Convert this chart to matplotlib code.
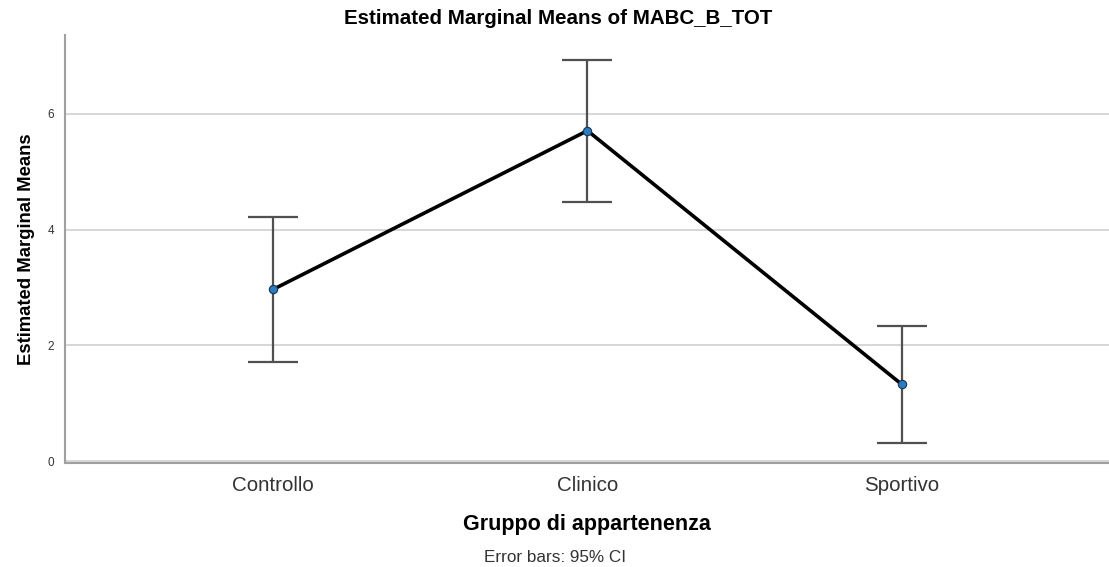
import matplotlib.pyplot as plt

plt.rcParams['font.family'] = ['Liberation Sans', 'DejaVu Sans']

groups = ['Controllo', 'Clinico', 'Sportivo']
means = [2.97, 5.71, 1.33]
ci_low = [1.71, 4.47, 0.31]
ci_high = [4.22, 6.93, 2.33]

x = list(range(len(groups)))
err_low = [m - lo for m, lo in zip(means, ci_low)]
err_high = [hi - m for m, hi in zip(means, ci_high)]

fig = plt.figure(figsize=(11.09, 5.67), dpi=100)
ax = fig.add_axes([0.0586, 0.1834, 0.9414, 0.7546])

# grid lines behind everything
for yv in [0, 2, 4, 6]:
    ax.axhline(yv, color='#d0d0d0', lw=1.2, zorder=0)

ax.errorbar(x, means, yerr=[err_low, err_high], fmt='none', ecolor='#505050',
            elinewidth=1.6, capsize=18, capthick=1.6, zorder=2)
ax.plot(x, means, color='black', lw=2.6, zorder=3)
ax.plot(x, means, 'o', ms=6, mfc='#2b7bc0', mec='#1a3550', mew=0.8, zorder=4)

ax.set_xlim(-0.663, 2.66)
ax.set_ylim(-0.03, 7.36)
ax.set_yticks([0, 2, 4, 6])
ax.set_yticklabels(['0', '2', '4', '6'], fontsize=8.5, color='#333333')
ax.set_xticks(x)
ax.set_xticklabels(groups, fontsize=14.8, color='#333333')
ax.tick_params(axis='both', length=0)
ax.tick_params(axis='x', pad=9)
ax.tick_params(axis='y', pad=8)

for s in ['top', 'right']:
    ax.spines[s].set_visible(False)
for s in ['left', 'bottom']:
    ax.spines[s].set_color('#a0a0a0')
    ax.spines[s].set_linewidth(1.5)

ax.set_ylabel('Estimated Marginal Means', fontsize=13.3, fontweight='bold', labelpad=9)
ax.set_xlabel('Gruppo di appartenenza', fontsize=15.5, fontweight='bold', labelpad=14)
fig.text(0.503, 0.968, 'Estimated Marginal Means of MABC_B_TOT', ha='center', va='center',
         fontsize=14.8, fontweight='bold')
fig.text(0.5, 0.016, 'Error bars: 95% CI', ha='center', va='center', fontsize=12.3,
         color='#333333')

fig.savefig('out.png', dpi=100)
